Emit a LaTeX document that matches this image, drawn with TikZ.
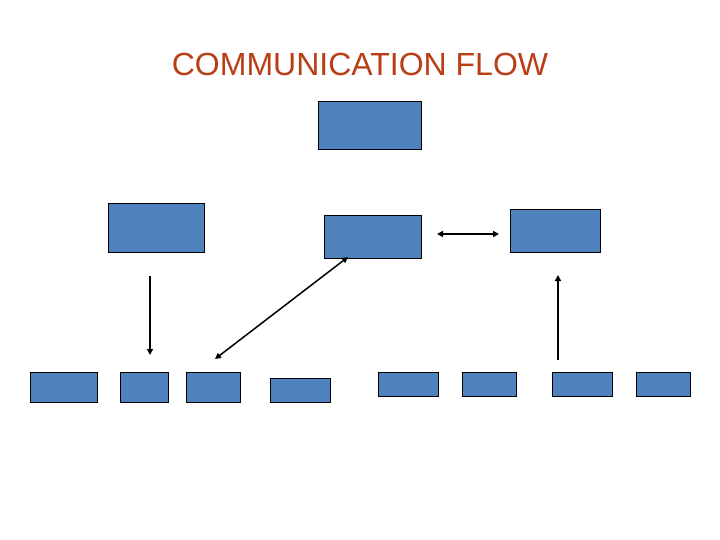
\documentclass[tikz,border=0pt]{standalone}
\usepackage{fontspec}
\setmainfont{Liberation Sans}
\usetikzlibrary{arrows.meta}
\definecolor{titlecol}{RGB}{185,62,22}
\definecolor{boxblue}{RGB}{79,129,189}
\begin{document}
\begin{tikzpicture}[x=1pt,y=-1pt,
  box/.style={draw=black,line width=1pt,fill=boxblue,anchor=north west,inner sep=0pt,outer sep=0pt},
  conn/.style={line width=1.5pt,black},
  tip/.style={-{Triangle[length=6pt,width=6pt]}},
  tips/.style={{Triangle[length=6pt,width=6pt]}-{Triangle[length=6pt,width=6pt]}}]
\useasboundingbox (0,0) rectangle (720,540);
\node[text=titlecol,font=\fontsize{32}{36}\selectfont,inner sep=0pt] (title) at (360,64) {COMMUNICATION FLOW};
% upper boxes
\node[box,minimum width=103pt,minimum height=48pt] (top) at (318,102) {};
\node[box,minimum width=96pt,minimum height=48pt] (left) at (108,204) {};
\node[box,minimum width=97pt,minimum height=42pt] (mid) at (324,216) {};
\node[box,minimum width=90pt,minimum height=42pt] (right) at (510,210) {};
% bottom row
\node[box,minimum width=67pt,minimum height=30pt] (b1) at (30,372) {};
\node[box,minimum width=48pt,minimum height=30pt] (b2) at (120,372) {};
\node[box,minimum width=54pt,minimum height=30pt] (b3) at (186,372) {};
\node[box,minimum width=60pt,minimum height=24pt] (b4) at (270,378) {};
\node[box,minimum width=60pt,minimum height=24pt] (b5) at (378,372) {};
\node[box,minimum width=54pt,minimum height=24pt] (b6) at (462,372) {};
\node[box,minimum width=60pt,minimum height=24pt] (b7) at (552,372) {};
\node[box,minimum width=54pt,minimum height=24pt] (b8) at (636,372) {};
% connector end points
\coordinate (d1) at (150,276);
\coordinate (d2) at (150,355);
\coordinate (g1) at (348,257);
\coordinate (g2) at (215,359);
\coordinate (h1) at (437,234);
\coordinate (h2) at (499,234);
\coordinate (u1) at (558,360);
\coordinate (u2) at (558,275);
\draw[conn,tip] (d1) -- (d2);
\draw[conn,tips] (g1) -- (g2);
\draw[conn,tips] (h1) -- (h2);
\draw[conn,tip] (u1) -- (u2);
\end{tikzpicture}
\end{document}
